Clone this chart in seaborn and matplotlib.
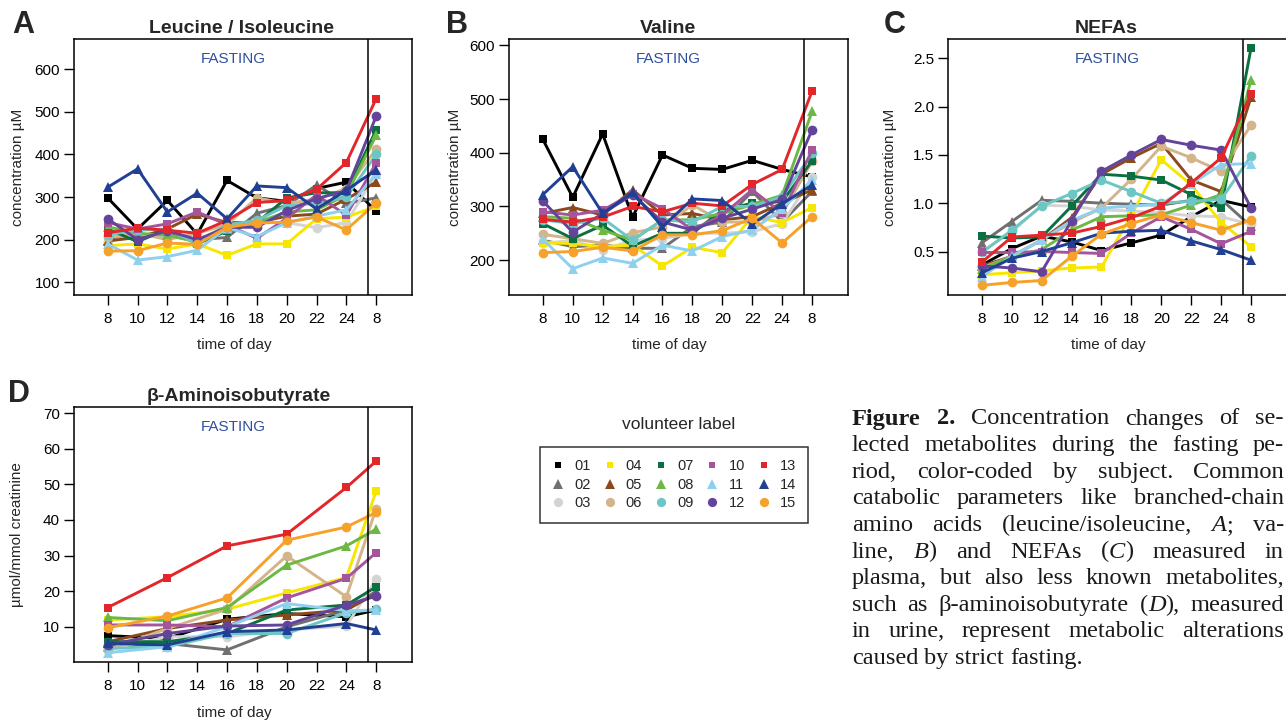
import re
import numpy as np
import pandas as pd
import matplotlib
matplotlib.use("Agg")
import matplotlib.pyplot as plt
import seaborn as sns
from matplotlib.lines import Line2D
from matplotlib.ticker import FormatStrFormatter
from matplotlib.transforms import blended_transform_factory

# ---------------- data ----------------
volunteers = ["01", "02", "03", "04", "05", "06", "07", "08", "09", "10", "11", "12", "13", "14", "15"]
time_labels = ["8", "10", "12", "14", "16", "18", "20", "22", "24", "8"]
colors = ["#000000", "#707070", "#d4d4d4", "#f7e600", "#8b4a1e", "#d4b48a", "#0b7041", "#6cb844",
          "#6cc7c4", "#a4559c", "#8fd0ee", "#64449a", "#e3262a", "#213f93", "#f6a12a"]
markers = ["s", "^", "o"] * 5

full_times = list(range(10))

leucine = {
    "01": [298, 225, 292, 213, 339, 298, 290, 320, 335, 267],
    "02": [200, 205, 215, 200, 205, 262, 280, 328, 285, 298],
    "03": [195, 210, 210, 195, 235, 240, 240, 228, 240, 355],
    "04": [186, 190, 178, 190, 163, 190, 190, 249, 253, 278],
    "05": [197, 205, 225, 260, 240, 240, 255, 260, 295, 335],
    "06": [205, 215, 200, 215, 235, 298, 285, 295, 320, 412],
    "07": [225, 195, 225, 190, 220, 240, 298, 310, 310, 458],
    "08": [230, 215, 210, 195, 225, 240, 265, 270, 305, 445],
    "09": [212, 222, 225, 190, 235, 245, 280, 285, 300, 400],
    "10": [240, 225, 237, 265, 235, 203, 250, 305, 257, 380],
    "11": [190, 152, 160, 175, 228, 207, 240, 255, 270, 355],
    "12": [249, 200, 221, 200, 229, 229, 268, 296, 315, 490],
    "13": [216, 227, 222, 215, 245, 287, 292, 318, 381, 531],
    "14": [323, 366, 265, 309, 249, 326, 322, 272, 316, 364],
    "15": [173, 174, 192, 189, 229, 239, 241, 253, 223, 286],
}

valine = {
    "01": [425, 317, 435, 280, 396, 371, 369, 386, 369, 355],
    "02": [237, 225, 228, 222, 222, 262, 271, 328, 271, 328],
    "03": [231, 237, 219, 237, 240, 250, 250, 253, 268, 355],
    "04": [232, 231, 225, 228, 189, 224, 214, 281, 270, 298],
    "05": [287, 298, 284, 331, 284, 287, 275, 281, 306, 331],
    "06": [248, 240, 231, 251, 262, 303, 271, 271, 287, 384],
    "07": [268, 240, 265, 226, 250, 250, 293, 306, 309, 385],
    "08": [281, 278, 256, 237, 275, 275, 287, 303, 321, 477],
    "09": [275, 268, 278, 237, 275, 271, 300, 300, 318, 399],
    "10": [290, 284, 293, 324, 296, 256, 284, 331, 287, 405],
    "11": [239, 184, 204, 194, 228, 217, 244, 256, 296, 349],
    "12": [310, 252, 287, 322, 271, 256, 278, 295, 313, 443],
    "13": [276, 271, 280, 300, 290, 306, 301, 341, 369, 515],
    "14": [322, 374, 287, 326, 262, 314, 311, 267, 305, 340],
    "15": [214, 216, 224, 217, 247, 247, 255, 278, 232, 281],
}

nefas = {
    "01": [0.36, 0.53, 0.66, 0.60, 0.51, 0.59, 0.67, 0.86, 1.03, 0.96],
    "02": [0.59, 0.81, 1.03, 1.02, 1.00, 0.99, 0.98, 1.03, 1.04, 0.76],
    "03": [0.50, 0.70, 0.98, 0.97, 0.93, 0.92, 0.90, 0.87, 0.86, 0.78],
    "04": [0.26, 0.28, 0.30, 0.33, 0.34, 0.88, 1.45, 1.19, 0.80, 0.55],
    "05": [0.35, 0.45, 0.62, 0.85, 1.30, 1.47, 1.62, 1.24, 1.12, 2.10],
    "06": [0.33, 0.45, 0.62, 0.80, 0.95, 1.25, 1.59, 1.47, 1.33, 1.81],
    "07": [0.66, 0.64, 0.65, 0.97, 1.30, 1.28, 1.24, 1.09, 0.95, 2.61],
    "08": [0.32, 0.45, 0.52, 0.72, 0.86, 0.87, 0.88, 0.98, 1.09, 2.28],
    "09": [0.49, 0.72, 0.97, 1.10, 1.24, 1.12, 1.00, 1.02, 1.04, 1.49],
    "10": [0.49, 0.49, 0.50, 0.49, 0.48, 0.69, 0.86, 0.73, 0.58, 0.71],
    "11": [0.24, 0.45, 0.62, 0.82, 0.95, 0.97, 0.99, 1.20, 1.40, 1.41],
    "12": [0.35, 0.33, 0.29, 0.82, 1.33, 1.50, 1.66, 1.60, 1.55, 0.95],
    "13": [0.39, 0.65, 0.67, 0.69, 0.76, 0.85, 0.97, 1.21, 1.47, 2.13],
    "14": [0.28, 0.43, 0.50, 0.59, 0.69, 0.71, 0.72, 0.61, 0.52, 0.41],
    "15": [0.15, 0.18, 0.20, 0.45, 0.68, 0.79, 0.88, 0.80, 0.72, 0.83],
}

baib_times = [0, 2, 4, 6, 8, 9]
baib = {
    "01": [7.5, 6.7, 12.1, 13.7, 12.8, 14.7],
    "02": [4.4, 5.3, 3.5, 10.0, 14.7, 20.0],
    "03": [3.5, 7.2, 7.2, 9.1, 10.2, 23.4],
    "04": [11.9, 12.8, 14.9, 19.5, 23.8, 48.1],
    "05": [5.8, 9.5, 11.9, 13.3, 14.7, 19.3],
    "06": [3.5, 9.5, 14.9, 29.9, 18.4, 43.2],
    "07": [5.8, 5.8, 8.1, 14.7, 16.1, 21.2],
    "08": [12.6, 11.7, 15.4, 27.3, 32.7, 37.4],
    "09": [3.9, 4.4, 8.1, 8.1, 13.9, 14.9],
    "10": [10.5, 10.5, 10.0, 18.1, 23.6, 30.8],
    "11": [2.7, 4.4, 10.0, 16.5, 14.5, 14.7],
    "12": [4.9, 8.1, 10.2, 10.5, 16.1, 18.6],
    "13": [15.4, 23.8, 32.7, 36.0, 49.1, 56.5],
    "14": [5.3, 4.9, 8.6, 9.1, 10.9, 9.1],
    "15": [9.7, 13.0, 18.1, 34.3, 38.0, 42.1],
}

caption_lines = [
    "**Figure** **2.** Concentration changes of se-",
    "lected metabolites during the fasting pe-",
    "riod, color-coded by subject. Common",
    "catabolic parameters like branched-chain",
    "amino acids (leucine/isoleucine, *A*; va-",
    "line, *B*) and NEFAs (*C*) measured in",
    "plasma, but also less known metabolites,",
    "such as β-aminoisobutyrate (*D*), measured",
    "in urine, represent metabolic alterations",
    "caused by strict fasting.",
]

# ---------------- style ----------------
sns.set_style("ticks")
plt.rcParams["font.family"] = ["Liberation Sans", "DejaVu Sans"]
plt.rcParams["axes.linewidth"] = 1.1
plt.rcParams["xtick.major.width"] = 1.0
plt.rcParams["ytick.major.width"] = 1.0
plt.rcParams["xtick.color"] = "black"
plt.rcParams["ytick.color"] = "black"
plt.rcParams["axes.edgecolor"] = "black"

W, H = 1286, 721
fig = plt.figure(figsize=(W / 100, H / 100), dpi=100)


def rect(l, t, r, b):
    return [l / W, 1 - b / H, (r - l) / W, (b - t) / H]


marker_sizes = {"s": 5.3, "^": 7.2, "o": 7.0}
FASTING_COLOR = "#2f4fa0"

panels = [
    dict(letter="A", lpos=(12, 33), title="Leucine / Isoleucine", tx=0.496, data=leucine, times=full_times,
         box=(74, 39, 412, 295), ylim=(70, 671), yticks=[100, 200, 300, 400, 500, 600], fmt=None,
         ylabel="concentration µM", ylx=-0.145, xly=-0.168),
    dict(letter="B", lpos=(446, 33), title="Valine", tx=0.47, data=valine, times=full_times,
         box=(509, 39, 848, 295), ylim=(135, 612), yticks=[200, 300, 400, 500, 600], fmt=None,
         ylabel="concentration µM", ylx=-0.139, xly=-0.168),
    dict(letter="C", lpos=(884, 33), title="NEFAs", tx=0.468, data=nefas, times=full_times,
         box=(948, 39, 1287, 295), ylim=(0.05, 2.70), yticks=[0.5, 1.0, 1.5, 2.0, 2.5], fmt="%.1f",
         ylabel="concentration µM", ylx=-0.15, xly=-0.168),
    dict(letter="D", lpos=(8, 401.5), title="β-Aminoisobutyrate", tx=0.487, data=baib, times=baib_times,
         box=(74, 407, 412, 662), ylim=(0.1, 71.7), yticks=[10, 20, 30, 40, 50, 60, 70], fmt=None,
         ylabel="µmol/mmol creatinine", ylx=-0.148, xly=-0.173),
]

for p in panels:
    ax = fig.add_axes(rect(*p["box"]))
    for v, c, m in zip(volunteers, colors, markers):
        df = pd.DataFrame({"time": p["times"], "value": p["data"][v]})
        sns.lineplot(data=df, x="time", y="value", ax=ax, color=c, marker=m,
                     markersize=marker_sizes[m], markeredgewidth=0, markeredgecolor=c,
                     linewidth=2.1, errorbar=None, sort=False, legend=False)
    ax.axvline(8.72, color="black", linewidth=1.1, zorder=5)
    ax.set_xlim(-1.13, 10.2)
    ax.set_ylim(*p["ylim"])
    ax.set_xticks(range(len(time_labels)))
    ax.set_xticklabels(time_labels)
    ax.set_yticks(p["yticks"])
    if p["fmt"]:
        ax.yaxis.set_major_formatter(FormatStrFormatter(p["fmt"]))
    ax.tick_params(axis="both", direction="out", length=7, width=1.0, labelsize=11, colors="black")
    ax.tick_params(axis="x", pad=5)
    ax.tick_params(axis="y", pad=3)
    for s in ax.spines.values():
        s.set_visible(True)
        s.set_linewidth(1.1)
        s.set_color("black")
    ax.set_xlabel("time of day", fontsize=11)
    ax.set_ylabel(p["ylabel"], fontsize=11)
    ax.xaxis.set_label_coords(0.473, p["xly"])
    ax.xaxis.label.set_va("top")
    ax.yaxis.set_label_coords(p["ylx"], 0.5)
    ax.set_title(p["title"], fontsize=14, fontweight="bold", x=p["tx"], pad=4.5)
    tr = blended_transform_factory(ax.transData, ax.transAxes)
    ax.text(4.2, 0.923, "FASTING", transform=tr, ha="center", va="center",
            fontsize=11, color=FASTING_COLOR)
    fig.text(p["lpos"][0] / W, 1 - p["lpos"][1] / H, p["letter"], fontsize=22,
             fontweight="bold", ha="left", va="baseline")

# ---------------- legend ----------------
handles = [Line2D([], [], linestyle="none", marker=m, color=c, markersize=marker_sizes[m] * 0.95,
                  markeredgewidth=0) for c, m in zip(colors, markers)]
leg = fig.legend(handles, volunteers, ncol=5, loc="upper left",
                 bbox_to_anchor=(540 / W, 1 - 447 / H), borderaxespad=0,
                 frameon=True, fancybox=False, edgecolor="black", fontsize=10.5,
                 handlelength=0.8, handletextpad=0.7, columnspacing=0.9,
                 labelspacing=0.3, borderpad=0.85)
leg.get_frame().set_linewidth(1.1)
fig.text(679 / W, 1 - 425 / H, "volunteer label", fontsize=12.5, ha="center", va="center")

# ---------------- caption (justified) ----------------
cap_fs = 17.6
cap_x0, cap_x1 = 852, 1284
cap_y0, cap_dy = 424.5, 26.6
renderer = fig.canvas.get_renderer()


def parse_word(w):
    segs = []
    for part in re.split(r"(\*\*[^*]+\*\*|\*[^*]+\*)", w):
        if not part:
            continue
        if part.startswith("**"):
            segs.append((part[2:-2], "bold", "normal"))
        elif part.startswith("*"):
            segs.append((part[1:-1], "normal", "italic"))
        else:
            segs.append((part, "normal", "normal"))
    return segs


for li, line in enumerate(caption_lines):
    words = [parse_word(w) for w in line.split(" ")]
    items, widths = [], []
    for w in words:
        segs, ww = [], 0.0
        for s, wt, st in w:
            t = fig.text(0, 0, s, fontsize=cap_fs, family=["Liberation Serif", "DejaVu Serif"],
                         weight=wt, style=st, ha="left", va="baseline", color="#1a1a1a")
            bw = t.get_window_extent(renderer).width
            segs.append((t, ww))
            ww += bw
        items.append(segs)
        widths.append(ww)
    last = li == len(caption_lines) - 1
    if last:
        gap = cap_fs * 1.389 * 0.25
    else:
        gap = max((cap_x1 - cap_x0 - sum(widths)) / (len(words) - 1), 2.0)
    x = cap_x0
    ypix = cap_y0 + li * cap_dy
    for segs, ww in zip(items, widths):
        for t, off in segs:
            t.set_position(((x + off) / W, 1 - ypix / H))
        x += ww + gap

fig.savefig("out.png", dpi=100)
